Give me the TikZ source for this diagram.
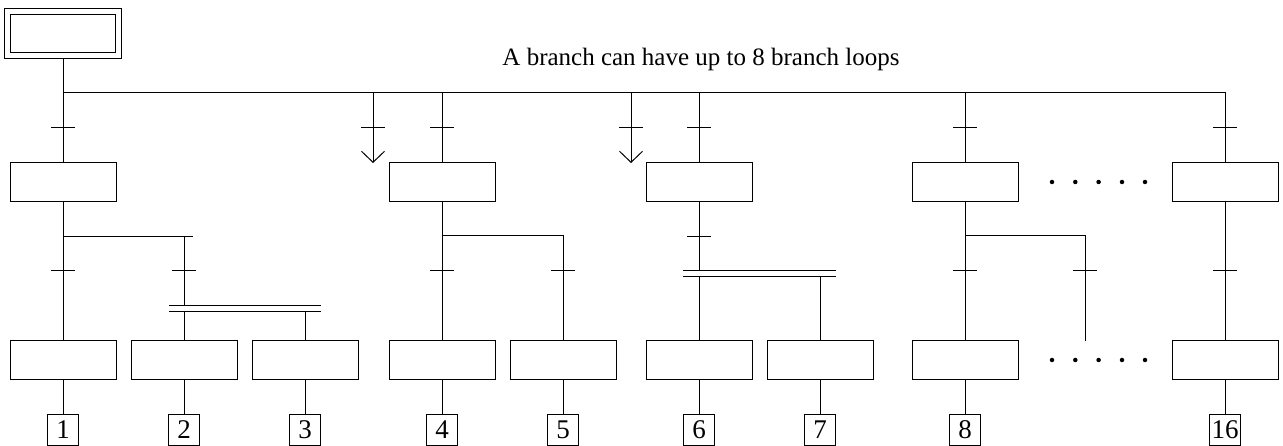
\documentclass[tikz,border=0pt]{standalone}
\usepackage{fontspec}
\setmainfont{Liberation Serif}
\usetikzlibrary{arrows.meta}
\begin{document}
\begin{tikzpicture}[x=1pt,y=-1pt,line width=1pt,
  stepbox/.style={draw,minimum width=106pt,minimum height=39pt,inner sep=0pt},
  initbox/.style={draw,double,double distance=5pt,minimum width=111pt,minimum height=44pt,inner sep=0pt,outer sep=3pt},
  lblbox/.style={draw,minimum width=31pt,minimum height=31pt,inner sep=0pt,font=\fontsize{27}{30}\selectfont},
  trans/.pic={\draw (-12pt,0pt) -- (12pt,0pt);},
  dotmark/.style={circle,fill,inner sep=0pt,minimum size=4.5pt},
  barb/.style={-{Straight Barb[length=11pt,width=23pt]}},
  simul/.style={double,double distance=5pt}
]
\useasboundingbox (0,0) rectangle (1283,446);

% title
\node[anchor=base,font=\fontsize{25}{30}\selectfont] (title) at (701,66) {A branch can have up to 8 branch loops};

% initial step
\node[initbox] (init) at (63,34) {};

% first row of steps
\node[stepbox] (s1)  at (63,182.5) {};
\node[stepbox] (s4)  at (442,182.5) {};
\node[stepbox] (s6)  at (699,182.5) {};
\node[stepbox] (s8)  at (965,182.5) {};
\node[stepbox] (s16) at (1225,182.5) {};

% second row of steps with their output labels
\foreach \n/\x in {1/63,2/184,3/305,4/442,5/563,6/699,7/820,8/965,16/1225}{
  \node[stepbox] (b\n) at (\x,360) {};
  \node[lblbox] (l\n) at (\x,429.5) {\n};
  \draw (b\n.south) -- (l\n.north);
}

% continuation dots
\foreach \i/\x in {1/1052,2/1075.3,3/1098.6,4/1122,5/1145}{
  \node[dotmark] (pa\i) at (\x,182) {};
  \node[dotmark] (pb\i) at (\x,360) {};
}

% main branch bus
\coordinate (busL) at (63,93);
\coordinate (busR) at (1225,93);
\draw (init.south) -- (s1.north);
\draw (busL) -- (busR) -- (s16.north);
\draw (s4.north |- busR) -- (s4.north);
\draw (s6.north |- busR) -- (s6.north);
\draw (s8.north |- busR) -- (s8.north);

% jump-in arrows
\coordinate (in1) at (373,163);
\coordinate (in2) at (631,163);
\draw[barb] (in1 |- busR) -- (in1);
\draw[barb] (in2 |- busR) -- (in2);

% transitions below the bus
\foreach \x in {63,373,442,631,699,965,1225}{
  \pic at (\x,128) {trans};
}

% column 1: selection into steps 1 and 2, parallel into 2 and 3
\coordinate (sel1) at (193,237);
\coordinate (par1w) at (169,309);
\coordinate (par1e) at (321,309);
\coordinate (j2t) at (184,306);
\coordinate (j2b) at (184,312);
\coordinate (j3b) at (305,312);
\draw (s1.south) -- (b1.north);
\draw (s1.south |- sel1) -- (sel1);
\draw (b2.north |- sel1) -- (j2t);
\draw[simul] (par1w) -- (par1e);
\draw (j2b) -- (b2.north);
\draw (j3b) -- (b3.north);

% column 4: selection into steps 4 and 5
\coordinate (sel4) at (563,236);
\draw (s4.south) -- (b4.north);
\draw (s4.south |- sel4) -- (sel4) -- (b5.north);

% column 6: parallel into steps 6 and 7
\coordinate (par6w) at (683,274);
\coordinate (par6e) at (836,274);
\coordinate (j6t) at (699,271);
\coordinate (j6b) at (699,277);
\coordinate (j7b) at (820,277);
\draw (s6.south) -- (j6t);
\draw[simul] (par6w) -- (par6e);
\draw (j6b) -- (b6.north);
\draw (j7b) -- (b7.north);
\pic at (699,237) {trans};

% column 8: open selection
\coordinate (sel8) at (1085,236);
\coordinate (open8) at (1085,341);
\draw (s8.south) -- (b8.north);
\draw (s8.south |- sel8) -- (sel8) -- (open8);

% column 16
\draw (s16.south) -- (b16.north);

% lower transitions
\foreach \x in {63,184,442,563,965,1085,1225}{
  \pic at (\x,271) {trans};
}
\end{tikzpicture}
\end{document}
